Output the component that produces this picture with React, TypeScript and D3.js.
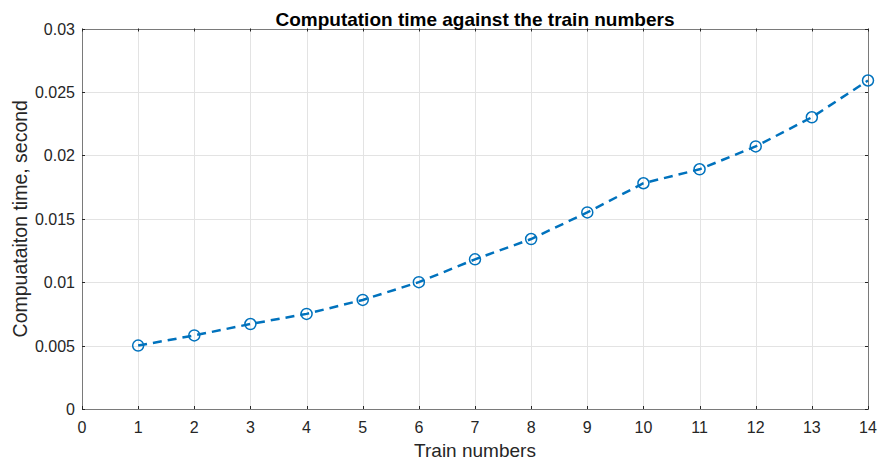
import * as d3 from "d3";
import { useEffect, useRef } from "react";

// train count vs. computation time (s)
const trainNumbers = [1, 2, 3, 4, 5, 6, 7, 8, 9, 10, 11, 12, 13, 14];
const compTimes = [
  0.005, 0.0058, 0.0067, 0.0075, 0.0086, 0.01, 0.0118, 0.0134, 0.0155, 0.0178,
  0.0189, 0.0207, 0.023, 0.0259,
];
const xTicks = [0, 1, 2, 3, 4, 5, 6, 7, 8, 9, 10, 11, 12, 13, 14];
const yTicks = [0, 0.005, 0.01, 0.015, 0.02, 0.025, 0.03];

const W = 878;
const H = 462;
const margin = { top: 28.5, right: 10, bottom: 53, left: 82 };
const lineColor = "#0072BD";
const axisColor = "#262626";
const font = "Arial, 'Liberation Sans', Helvetica, sans-serif";

export default function App() {
  const svgRef = useRef(null);

  useEffect(() => {
    const svg = d3.select(svgRef.current);
    svg.selectAll("*").remove();

    const x = d3.scaleLinear().domain([0, 14]).range([margin.left, W - margin.right]);
    const y = d3.scaleLinear().domain([0, 0.03]).range([H - margin.bottom, margin.top]);
    const [x0, x1] = x.range();
    const [y0, y1] = y.range();

    // grid
    const grid = svg.append("g").attr("stroke", "#e3e3e3").attr("stroke-width", 1);
    grid.selectAll("line.gx")
      .data(xTicks.slice(1, -1))
      .join("line")
        .attr("x1", d => Math.round(x(d)) + 0.5)
        .attr("x2", d => Math.round(x(d)) + 0.5)
        .attr("y1", y1)
        .attr("y2", y0);
    grid.selectAll("line.gy")
      .data(yTicks.slice(1, -1))
      .join("line")
        .attr("class", "gy")
        .attr("x1", x0)
        .attr("x2", x1)
        .attr("y1", d => Math.round(y(d)) + 0.5)
        .attr("y2", d => Math.round(y(d)) + 0.5);

    // box
    svg.append("rect")
      .attr("x", Math.round(x0) + 0.5)
      .attr("y", Math.round(y1) + 0.5)
      .attr("width", Math.round(x1) - Math.round(x0))
      .attr("height", Math.round(y0) - Math.round(y1))
      .attr("fill", "none")
      .attr("stroke", "#7a7a7a")
      .attr("stroke-width", 1);

    // inner ticks on all four sides
    const tk = 3;
    const ticks = svg.append("g").attr("stroke", axisColor).attr("stroke-width", 1);
    xTicks.forEach(d => {
      const px = Math.round(x(d)) + 0.5;
      ticks.append("line").attr("x1", px).attr("x2", px).attr("y1", y0).attr("y2", y0 - tk);
      ticks.append("line").attr("x1", px).attr("x2", px).attr("y1", y1).attr("y2", y1 + tk);
    });
    yTicks.forEach(d => {
      const py = Math.round(y(d)) + 0.5;
      ticks.append("line").attr("x1", x0).attr("x2", x0 + tk).attr("y1", py).attr("y2", py);
      ticks.append("line").attr("x1", x1).attr("x2", x1 - tk).attr("y1", py).attr("y2", py);
    });

    // tick labels
    svg.append("g")
      .selectAll("text")
      .data(xTicks)
      .join("text")
        .attr("x", d => x(d))
        .attr("y", y0 + 24)
        .attr("text-anchor", "middle")
        .attr("font-family", font)
        .attr("font-size", 16)
        .attr("fill", axisColor)
        .text(d => d);
    svg.append("g")
      .selectAll("text")
      .data(yTicks)
      .join("text")
        .attr("x", x0 - 7)
        .attr("y", d => y(d) + 6)
        .attr("text-anchor", "end")
        .attr("font-family", font)
        .attr("font-size", 16)
        .attr("fill", axisColor)
        .text(d => (d === 0 ? "0" : String(d)));

    // data line
    const line = d3.line<number>()
      .x((_, i) => x(trainNumbers[i]))
      .y(d => y(d));
    svg.append("path")
      .datum(compTimes)
      .attr("d", line)
      .attr("fill", "none")
      .attr("stroke", lineColor)
      .attr("stroke-width", 2.5)
      .attr("stroke-dasharray", "9,6");

    svg.append("g")
      .selectAll("circle")
      .data(compTimes)
      .join("circle")
        .attr("cx", (_, i) => x(trainNumbers[i]))
        .attr("cy", d => y(d))
        .attr("r", 5.5)
        .attr("fill", "none")
        .attr("stroke", lineColor)
        .attr("stroke-width", 1.5);

    // title and axis labels
    svg.append("text")
      .attr("x", (x0 + x1) / 2)
      .attr("y", 26)
      .attr("text-anchor", "middle")
      .attr("font-family", font)
      .attr("font-size", 19)
      .attr("font-weight", "bold")
      .attr("fill", "#000")
      .text("Computation time against the train numbers");

    svg.append("text")
      .attr("x", (x0 + x1) / 2)
      .attr("y", 457)
      .attr("text-anchor", "middle")
      .attr("font-family", font)
      .attr("font-size", 19)
      .attr("fill", axisColor)
      .text("Train numbers");

    svg.append("text")
      .attr("transform", `translate(27, ${(y0 + y1) / 2}) rotate(-90)`)
      .attr("text-anchor", "middle")
      .attr("font-family", font)
      .attr("font-size", 19.5)
      .attr("fill", axisColor)
      .text("Compuataiton time, second");
  }, []);

  return (
    <svg
      ref={svgRef}
      width={W}
      height={H}
      style={{ position: "absolute", left: 0, top: 0, background: "#fff" }}
    />
  );
}
